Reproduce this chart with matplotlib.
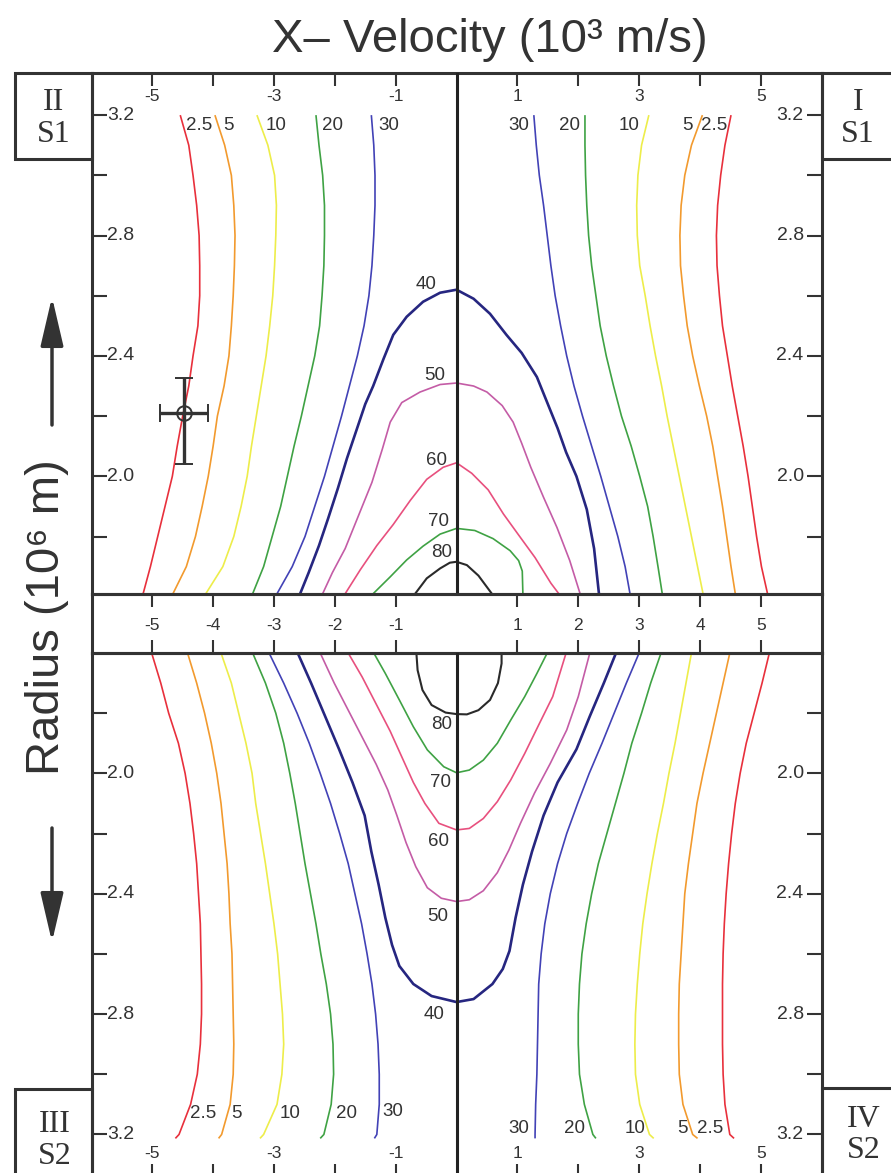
import matplotlib
matplotlib.use('Agg')
import matplotlib.pyplot as plt
from matplotlib.patches import Rectangle, FancyArrowPatch
from matplotlib.transforms import offset_copy

plt.rcParams['font.family'] = ['Liberation Sans', 'DejaVu Sans']

# ---- data (x-velocity in 10^3 m/s, radius in 10^6 m) ----
# radius samples for the near-vertical contours
r_up = [3.2, 3.1, 3.0, 2.9, 2.8, 2.7, 2.6, 2.5, 2.4, 2.3, 2.2, 2.1, 2.0, 1.9, 1.8, 1.7, 1.61]
r_lo = [1.6, 1.7, 1.8, 1.9, 2.0, 2.1, 2.2, 2.3, 2.4, 2.5, 2.6, 2.7, 2.8, 2.9, 3.0, 3.1, 3.2, 3.213]

# upper half (S1), quadrant II
ul_2p5 = [-4.54, -4.40, -4.33, -4.27, -4.23, -4.22, -4.22, -4.25, -4.33, -4.40, -4.50, -4.59, -4.67, -4.79, -4.91, -5.03, -5.15]
ul_5 = [-3.97, -3.81, -3.70, -3.66, -3.64, -3.65, -3.67, -3.70, -3.74, -3.82, -3.93, -4.00, -4.08, -4.18, -4.29, -4.44, -4.66]
ul_10 = [-3.28, -3.10, -2.99, -2.96, -2.97, -2.99, -3.02, -3.07, -3.13, -3.21, -3.29, -3.37, -3.44, -3.54, -3.66, -3.84, -4.12]
ul_20 = [-2.31, -2.26, -2.20, -2.17, -2.17, -2.18, -2.21, -2.25, -2.33, -2.44, -2.55, -2.67, -2.78, -2.89, -3.03, -3.17, -3.35]
ul_30 = [-1.40, -1.36, -1.34, -1.34, -1.36, -1.39, -1.44, -1.52, -1.63, -1.76, -1.89, -2.03, -2.17, -2.33, -2.49, -2.70, -2.95]
# upper half (S1), quadrant I
ur_30 = [1.27, 1.31, 1.36, 1.43, 1.49, 1.55, 1.62, 1.71, 1.81, 1.93, 2.07, 2.22, 2.37, 2.51, 2.65, 2.77, 2.85]
ur_20 = [2.11, 2.11, 2.12, 2.14, 2.17, 2.22, 2.29, 2.36, 2.46, 2.58, 2.71, 2.87, 3.01, 3.14, 3.23, 3.31, 3.38]
ur_10 = [3.16, 3.04, 2.98, 2.96, 2.97, 3.01, 3.10, 3.18, 3.27, 3.37, 3.46, 3.56, 3.66, 3.76, 3.86, 3.96, 4.05]
ur_5 = [4.04, 3.86, 3.75, 3.69, 3.67, 3.68, 3.73, 3.79, 3.88, 3.99, 4.11, 4.21, 4.29, 4.37, 4.44, 4.51, 4.58]
ur_2p5 = [4.51, 4.41, 4.34, 4.29, 4.27, 4.28, 4.32, 4.37, 4.45, 4.53, 4.62, 4.71, 4.79, 4.86, 4.93, 5.01, 5.11]

# upper half closed-top contours
u40_v = [-2.57, -2.43, -2.26, -2.11, -1.95, -1.80, -1.65, -1.50, -1.37, -1.20, -1.04, -0.82, -0.55, -0.27, 0.0,
         0.28, 0.55, 0.82, 1.07, 1.32, 1.50, 1.66, 1.80, 1.97, 2.14, 2.26, 2.34]
u40_r = [1.61, 1.68, 1.77, 1.86, 1.96, 2.06, 2.15, 2.24, 2.30, 2.39, 2.47, 2.53, 2.58, 2.61, 2.62,
         2.59, 2.54, 2.47, 2.41, 2.33, 2.24, 2.16, 2.08, 2.00, 1.89, 1.76, 1.61]
u50_v = [-2.20, -2.04, -1.83, -1.61, -1.39, -1.22, -1.09, -0.90, -0.60, -0.27, 0.0,
         0.28, 0.50, 0.75, 0.93, 1.07, 1.22, 1.43, 1.65, 1.86, 2.03]
u50_r = [1.61, 1.68, 1.76, 1.87, 1.98, 2.09, 2.18, 2.245, 2.28, 2.305, 2.31,
         2.30, 2.28, 2.235, 2.18, 2.11, 2.03, 1.93, 1.83, 1.72, 1.61]
u60_v = [-1.83, -1.58, -1.31, -1.04, -0.76, -0.49, -0.22, 0.0, 0.25, 0.52, 0.77, 1.02, 1.29, 1.55, 1.68]
u60_r = [1.61, 1.69, 1.77, 1.84, 1.92, 1.99, 2.03, 2.045, 2.01, 1.955, 1.875, 1.805, 1.73, 1.645, 1.61]
u70_v = [-1.37, -1.09, -0.82, -0.55, -0.27, 0.0, 0.30, 0.60, 0.88, 1.02, 1.08, 1.09]
u70_r = [1.61, 1.666, 1.722, 1.768, 1.808, 1.827, 1.82, 1.793, 1.753, 1.72, 1.685, 1.61]
u80_v = [-0.68, -0.49, -0.27, -0.11, 0.0, 0.17, 0.36, 0.58]
u80_r = [1.61, 1.661, 1.694, 1.713, 1.716, 1.705, 1.67, 1.61]

# lower half (S2), quadrant III
ll_2p5 = [-5.01, -4.86, -4.73, -4.57, -4.46, -4.38, -4.32, -4.27, -4.24, -4.21, -4.20, -4.19, -4.19, -4.21, -4.26, -4.37, -4.56, -4.62]
ll_5 = [-4.42, -4.27, -4.14, -4.03, -3.94, -3.87, -3.82, -3.77, -3.74, -3.72, -3.69, -3.68, -3.67, -3.66, -3.67, -3.72, -3.86, -3.91]
ll_10 = [-3.87, -3.70, -3.58, -3.46, -3.36, -3.30, -3.22, -3.14, -3.07, -3.00, -2.94, -2.90, -2.86, -2.84, -2.87, -2.95, -3.17, -3.23]
ll_20 = [-3.35, -3.14, -2.97, -2.84, -2.74, -2.65, -2.57, -2.49, -2.40, -2.31, -2.23, -2.14, -2.07, -2.03, -2.02, -2.06, -2.18, -2.24]
ll_30 = [-3.08, -2.84, -2.62, -2.42, -2.24, -2.07, -1.92, -1.78, -1.67, -1.56, -1.47, -1.39, -1.33, -1.29, -1.27, -1.27, -1.31, -1.35]
# lower half (S2), quadrant IV
lr_30 = [3.00, 2.79, 2.59, 2.39, 2.18, 1.99, 1.81, 1.66, 1.54, 1.45, 1.39, 1.35, 1.34, 1.33, 1.32, 1.30, 1.29, 1.29]
lr_20 = [3.36, 3.19, 3.04, 2.88, 2.75, 2.61, 2.47, 2.33, 2.22, 2.13, 2.06, 2.02, 2.00, 2.00, 2.02, 2.10, 2.24, 2.29]
lr_10 = [3.86, 3.77, 3.68, 3.59, 3.49, 3.40, 3.30, 3.21, 3.13, 3.06, 3.01, 2.97, 2.94, 2.93, 2.94, 3.01, 3.17, 3.24]
lr_5 = [4.49, 4.38, 4.27, 4.16, 4.05, 3.95, 3.88, 3.81, 3.75, 3.72, 3.69, 3.66, 3.65, 3.65, 3.66, 3.72, 3.88, 3.96]
lr_2p5 = [5.14, 5.02, 4.89, 4.76, 4.66, 4.58, 4.52, 4.47, 4.43, 4.40, 4.38, 4.37, 4.37, 4.37, 4.38, 4.41, 4.49, 4.56]

# lower half closed-bottom contours
l40_v = [-2.61, -2.39, -2.16, -1.93, -1.71, -1.51, -1.40, -1.28, -1.17, -1.06, -0.94, -0.71, -0.41, 0.0,
         0.28, 0.59, 0.76, 0.87, 0.97, 1.09, 1.24, 1.43, 1.66, 1.97, 2.19, 2.42, 2.62]
l40_r = [1.60, 1.70, 1.81, 1.92, 2.03, 2.14, 2.26, 2.37, 2.48, 2.57, 2.64, 2.70, 2.74, 2.76,
         2.75, 2.70, 2.65, 2.59, 2.48, 2.37, 2.26, 2.14, 2.03, 1.92, 1.81, 1.70, 1.60]
l50_v = [-2.24, -2.01, -1.78, -1.55, -1.32, -1.13, -0.98, -0.83, -0.67, -0.48, -0.25, 0.0,
         0.21, 0.44, 0.67, 0.86, 1.05, 1.28, 1.54, 1.81, 2.00, 2.19]
l50_r = [1.60, 1.70, 1.79, 1.88, 1.97, 2.055, 2.14, 2.23, 2.31, 2.38, 2.415, 2.426,
         2.42, 2.39, 2.33, 2.255, 2.166, 2.066, 1.967, 1.856, 1.745, 1.60]
l60_v = [-1.78, -1.55, -1.32, -1.09, -0.90, -0.71, -0.52, -0.29, 0.0, 0.21, 0.44, 0.67, 0.89, 1.12, 1.35, 1.58, 1.80]
l60_r = [1.60, 1.68, 1.77, 1.86, 1.945, 2.03, 2.10, 2.166, 2.188, 2.183, 2.15, 2.094, 2.022, 1.934, 1.839, 1.745, 1.60]
l70_v = [-1.36, -1.17, -0.94, -0.71, -0.48, -0.21, 0.0, 0.21, 0.44, 0.67, 0.89, 1.12, 1.32, 1.49]
l70_r = [1.60, 1.668, 1.756, 1.845, 1.922, 1.978, 1.998, 1.989, 1.956, 1.90, 1.823, 1.745, 1.668, 1.60]
l80_v = [-0.66, -0.64, -0.56, -0.41, -0.18, 0.0, 0.17, 0.36, 0.55, 0.68, 0.74, 0.74]
l80_r = [1.60, 1.657, 1.723, 1.773, 1.798, 1.803, 1.804, 1.79, 1.756, 1.70, 1.635, 1.60]

# contour level labels
side_levels = ['2.5', '5', '10', '20', '30']
arch_levels = ['40', '50', '60', '70', '80']
up_top_lab_v = [-4.23, -3.75, -2.96, -2.04, -1.11, 4.23, 3.80, 2.83, 1.85, 1.02]
up_top_lab_r = 3.167
up_mid_lab_v = [-0.50, -0.36, -0.33, -0.29, -0.24]
up_mid_lab_r = [2.637, 2.336, 2.054, 1.849, 1.746]
lo_mid_lab_v = [-0.37, -0.31, -0.29, -0.27, -0.25]
lo_mid_lab_r = [2.80, 2.476, 2.227, 2.031, 1.836]
lo_bot_lab_v = [-4.16, -3.62, -2.73, -1.80, -1.05, 4.17, 3.72, 2.94, 1.93, 1.03]
lo_bot_lab_r = [3.13, 3.13, 3.13, 3.13, 3.124, 3.179, 3.179, 3.179, 3.179, 3.179]

# single measurement with error bars
cross_v = [-4.48]
cross_r = [2.21]
cross_dv = [0.39]
cross_dr = [[0.17], [0.115]]

x_ticks = [-5, -4, -3, -2, -1, 1, 2, 3, 4, 5]
x_labeled = [-5, -3, -1, 1, 3, 5]
r_ticks = [1.8, 2.0, 2.2, 2.4, 2.6, 2.8, 3.0, 3.2]
r_labeled = [2.0, 2.4, 2.8, 3.2]

# ---- style ----
INK = '#333333'
side_colors = ['#e8303c', '#f29a2e', '#eded4a', '#3fa244', '#4242b6']
arch_colors = ['#262680', '#c45ca6', '#e8507e', '#3fa244', '#2a2a2a']
arch_widths = [1.9, 1.2, 1.2, 1.2, 1.5]

W, H = 891, 1173
fig = plt.figure(figsize=(W / 100, H / 100), dpi=100)
fig.patch.set_facecolor('white')


def px_rect(x0, y0, x1, y1):
    return [x0 / W, 1 - y1 / H, (x1 - x0) / W, (y1 - y0) / H]


def fig_pt(x, y):
    return (x / W, 1 - y / H)


ax_up = fig.add_axes(px_rect(92, 73.3, 821.7, 594.3))
ax_mid = fig.add_axes(px_rect(92, 594.3, 821.7, 652.7))
ax_lo = fig.add_axes(px_rect(92, 652.7, 821.7, 1176.6))

ax_up.set_ylim(1.608, 3.339)
ax_lo.set_ylim(3.34, 1.599)
ax_mid.set_ylim(0, 1)
ax_mid.set_yticks([])

ax_up.xaxis.set_ticks_position('top')
ax_lo.xaxis.set_ticks_position('bottom')
ax_mid.xaxis.set_ticks_position('both')
for ax in (ax_up, ax_lo):
    ax.set_yticks(r_ticks)
    ax.yaxis.set_ticks_position('both')

for ax in (ax_up, ax_mid, ax_lo):
    ax.set_xlim(-5.99, 6.0)
    ax.set_facecolor('none')
    for s in ax.spines.values():
        s.set_linewidth(2.2)
        s.set_color(INK)
    ax.set_xticks(x_ticks)
    ax.tick_params(axis='both', direction='in', width=1.5, color=INK,
                   labelbottom=False, labeltop=False, labelleft=False, labelright=False)
    ax.tick_params(axis='x', length=9.5)
    ax.tick_params(axis='y', length=11)

# contour lines
for v, c in zip([ul_2p5, ul_5, ul_10, ul_20, ul_30], side_colors):
    ax_up.plot(v, r_up, color=c, lw=1.2, solid_capstyle='butt')
for v, c in zip([ur_2p5, ur_5, ur_10, ur_20, ur_30], side_colors):
    ax_up.plot(v, r_up, color=c, lw=1.2, solid_capstyle='butt')
for v, c in zip([ll_2p5, ll_5, ll_10, ll_20, ll_30], side_colors):
    ax_lo.plot(v, r_lo, color=c, lw=1.2, solid_capstyle='butt')
for v, c in zip([lr_2p5, lr_5, lr_10, lr_20, lr_30], side_colors):
    ax_lo.plot(v, r_lo, color=c, lw=1.2, solid_capstyle='butt')

up_arches = [(u40_v, u40_r), (u50_v, u50_r), (u60_v, u60_r), (u70_v, u70_r), (u80_v, u80_r)]
lo_arches = [(l40_v, l40_r), (l50_v, l50_r), (l60_v, l60_r), (l70_v, l70_r), (l80_v, l80_r)]
for (v, r), c, lw in zip(up_arches, arch_colors, arch_widths):
    ax_up.plot(v, r, color=c, lw=lw)
for (v, r), c, lw in zip(lo_arches, arch_colors, arch_widths):
    ax_lo.plot(v, r, color=c, lw=lw)

# centre line (zero velocity)
ax_up.axvline(0, color='#222222', lw=2.2, zorder=5)
ax_lo.axvline(0, color='#222222', lw=2.2, zorder=5)

# contour labels
lab_kw = dict(ha='center', va='center', color=INK, fontsize=13.5)
for v, t in zip(up_top_lab_v, side_levels + side_levels):
    ax_up.text(v, up_top_lab_r, t, **lab_kw)
for v, r, t in zip(lo_bot_lab_v, lo_bot_lab_r, side_levels + side_levels):
    ax_lo.text(v, r, t, **lab_kw)
for v, r, t in zip(up_mid_lab_v, up_mid_lab_r, arch_levels):
    ax_up.text(v, r, t, **lab_kw)
for v, r, t in zip(lo_mid_lab_v, lo_mid_lab_r, arch_levels):
    ax_lo.text(v, r, t, **lab_kw)

# tick labels drawn inside the frame
tick_kw = dict(color=INK, fontsize=12.5, ha='center', va='center')
tr_top = offset_copy(ax_up.get_xaxis_transform(), fig=fig, y=-23.4, units='dots')
tr_bot = offset_copy(ax_lo.get_xaxis_transform(), fig=fig, y=22.6, units='dots')
for v in x_labeled:
    ax_up.text(v, 1, f'{v}', transform=tr_top, **tick_kw)
    ax_lo.text(v, 0, f'{v}', transform=tr_bot, **tick_kw)
for v in x_ticks:
    ax_mid.text(v, 0.47, f'{v}', **tick_kw)

for ax in (ax_up, ax_lo):
    tr_l = offset_copy(ax.get_yaxis_transform(), fig=fig, x=15.5, units='dots')
    tr_r = offset_copy(ax.get_yaxis_transform(), fig=fig, x=-18, units='dots')
    for r in r_labeled:
        ax.text(0, r, f'{r:.1f}', transform=tr_l, ha='left', va='center', color=INK, fontsize=14)
        ax.text(1, r, f'{r:.1f}', transform=tr_r, ha='right', va='center', color=INK, fontsize=14)

# measurement point
ax_up.errorbar(cross_v, cross_r, xerr=cross_dv, yerr=cross_dr, fmt='o', mfc='none', mec=INK,
               ms=10.5, mew=1.4, ecolor=INK, elinewidth=2.4, capsize=6.5, capthick=2.4, zorder=6)

# quadrant boxes
boxes = [(15, 73.3, 92, 159.3), (821.7, 73.3, 900, 159.3),
         (15, 1089.3, 92, 1190), (821.7, 1087.7, 900, 1190)]
for x0, y0, x1, y1 in boxes:
    fig.add_artist(Rectangle(fig_pt(x0, y1), (x1 - x0) / W, (y1 - y0) / H, transform=fig.transFigure,
                             fill=False, lw=2.2, ec=INK))

serif = ['Liberation Serif', 'DejaVu Serif']
quad_text = [('II', 54, 103), ('S1', 54, 134.5), ('I', 858, 103), ('S1', 858, 134.5),
             ('III', 55, 1124), ('S2', 55, 1156), ('IV', 864, 1119.5), ('S2', 864, 1150.5)]
for t, x, y in quad_text:
    fig.text(*fig_pt(x, y), t, ha='center', va='center', fontsize=23, family=serif, color=INK)

# titles
fig.text(*fig_pt(490, 40), 'X\u2013 Velocity (10\u00b3 m/s)', ha='center', va='center', fontsize=34, color=INK)
fig.text(*fig_pt(47, 617), 'Radius (10\u2076 m)', ha='center', va='center', rotation=90, fontsize=34, color=INK)
for y0, y1 in [(425, 297), (828, 942)]:
    fig.add_artist(FancyArrowPatch(fig_pt(52, y0), fig_pt(52, y1), transform=fig.transFigure,
                                   arrowstyle='-|>,head_length=1.5,head_width=0.35', mutation_scale=20,
                                   lw=2.5, color=INK, shrinkA=0, shrinkB=0))

fig.savefig('out.png', dpi=100)
